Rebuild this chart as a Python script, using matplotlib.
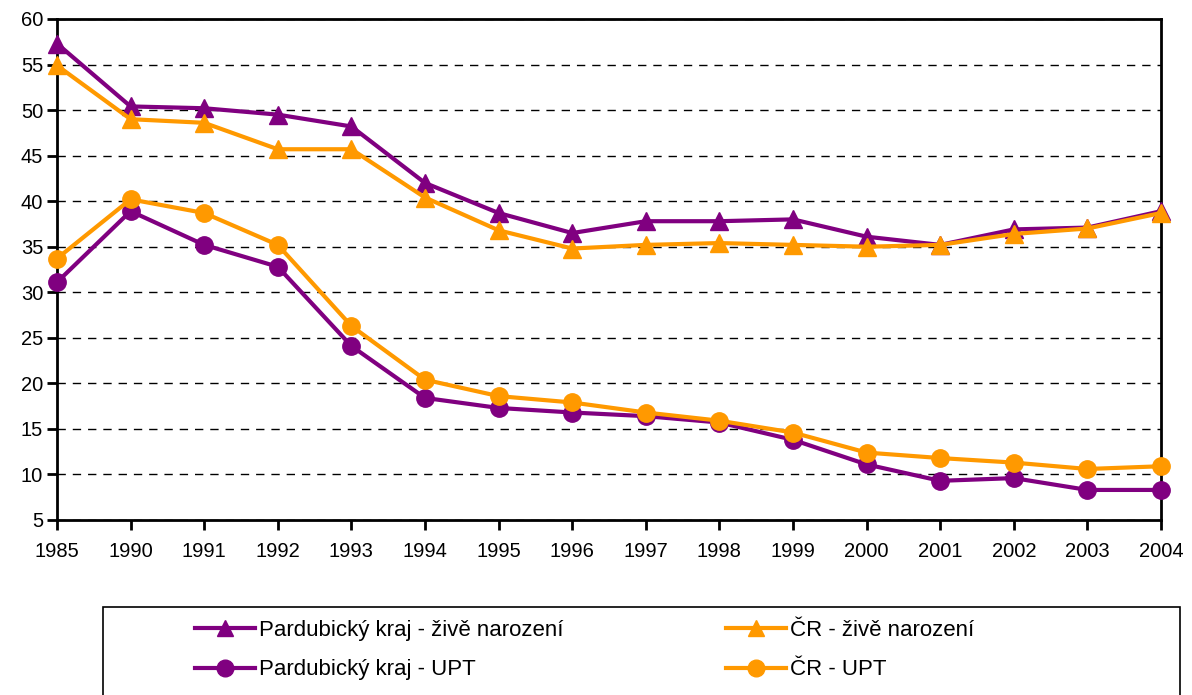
import matplotlib.pyplot as plt
from matplotlib.patches import Rectangle
import numpy as np

plt.rcParams['font.family'] = ['Liberation Sans', 'DejaVu Sans']

years = ['1985', '1990', '1991', '1992', '1993', '1994', '1995', '1996',
         '1997', '1998', '1999', '2000', '2001', '2002', '2003', '2004']
pce_births = [57.3, 50.4, 50.2, 49.5, 48.2, 42.0, 38.7, 36.5,
              37.8, 37.8, 38.0, 36.1, 35.2, 36.9, 37.1, 38.9]
cr_births = [54.9, 49.0, 48.6, 45.7, 45.7, 40.4, 36.8, 34.8,
             35.2, 35.4, 35.2, 35.0, 35.2, 36.4, 37.0, 38.7]
pce_upt = [31.1, 38.9, 35.2, 32.8, 24.1, 18.4, 17.3, 16.8,
           16.4, 15.7, 13.8, 11.1, 9.3, 9.6, 8.3, 8.3]
cr_upt = [33.7, 40.2, 38.7, 35.2, 26.3, 20.4, 18.6, 17.9,
          16.8, 15.9, 14.6, 12.4, 11.8, 11.3, 10.6, 10.9]

purple = '#800080'
orange = '#FF9900'
x = np.arange(len(years))

fig = plt.figure(figsize=(11.92, 6.95), dpi=100)
ax = fig.add_axes([0.0478, 0.2518, 0.9262, 0.7209])

ax.plot(x, pce_upt, color=purple, lw=3, marker='o', ms=12.5, clip_on=False, zorder=3,
        label='Pardubický kraj - UPT')
ax.plot(x, cr_upt, color=orange, lw=3, marker='o', ms=12.5, clip_on=False, zorder=3,
        label='ČR - UPT')
ax.plot(x, pce_births, color=purple, lw=3, marker='^', ms=12.5, clip_on=False, zorder=3,
        label='Pardubický kraj - živě narození')
ax.plot(x, cr_births, color=orange, lw=3, marker='^', ms=12.5, clip_on=False, zorder=3,
        label='ČR - živě narození')

ax.set_xlim(0, len(years) - 1)
ax.set_ylim(5, 60)
ax.set_yticks(np.arange(5, 61, 5))
ax.set_xticks(x)
ax.set_xticklabels(years)
ax.tick_params(labelsize=14.5, width=2, length=7, direction='out')
ax.tick_params(axis='x', pad=9)
ax.tick_params(axis='y', pad=3)
for s in ax.spines.values():
    s.set_linewidth(2)
ax.yaxis.grid(True, color='black', linestyle=(0, (6, 5)), lw=1)
ax.set_axisbelow(True)

# legend box
fig.add_artist(Rectangle((0.0864, -0.01), 0.9035, 0.1366, transform=fig.transFigure,
                         fill=False, ec='black', lw=1.2))

h, l = ax.get_legend_handles_labels()
order = [2, 0, 3, 1]
leg = fig.legend([h[i] for i in order], [l[i] for i in order], ncol=2,
                 loc='center left', bbox_to_anchor=(0.1636, 0.0647),
                 fontsize=16, frameon=False, handlelength=2.7, handletextpad=0.2,
                 labelspacing=0.85, columnspacing=7.3, borderpad=0, borderaxespad=0)
for lh in leg.legend_handles:
    lh.set_markersize(12)

fig.savefig('out.png', dpi=100)
